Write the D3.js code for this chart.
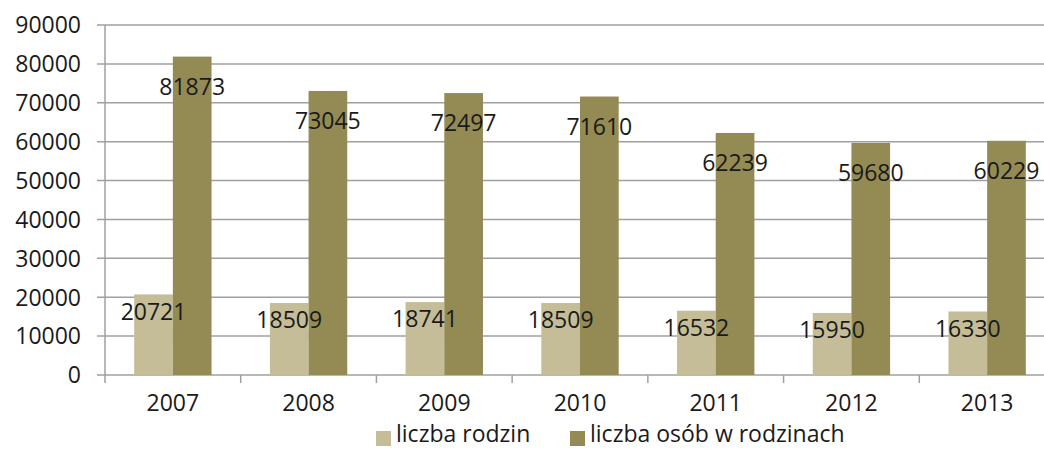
<!DOCTYPE html>
<html>
<head>
<meta charset="utf-8">
<script src="https://cdn.jsdelivr.net/npm/d3@7"></script>
<style>
  body { margin: 0; background: #fff; }
  svg { display: block; font-family: "Open Sans", sans-serif; }
  .grid line { stroke: #a0a0a0; stroke-width: 1.5; }
  .lbl { font-size: 23px; fill: #1a1a1a; }
</style>
</head>
<body>
<div id="chart"></div>
<script>
var years = ["2007", "2008", "2009", "2010", "2011", "2012", "2013"];
var families = [20721, 18509, 18741, 18509, 16532, 15950, 16330];
var persons = [81873, 73045, 72497, 71610, 62239, 59680, 60229];
var seriesNames = ["liczba rodzin", "liczba osób w rodzinach"];
var yTicks = [0, 10000, 20000, 30000, 40000, 50000, 60000, 70000, 80000, 90000];

var width = 1044, height = 450;
var colors = ["#c4bd97", "#948a54"];
var labelOffset = [17, 30];

var svg = d3.select("#chart").append("svg")
  .attr("width", width)
  .attr("height", height);

var x = d3.scaleBand().domain(years).range([105, 1055])
  .paddingInner(0.43).paddingOuter(0.215);
var xs = d3.scaleBand().domain([0, 1]).range([0, x.bandwidth()]);
var y = d3.scaleLinear().domain([0, 90000]).range([375, 25]);

// gridlines
svg.append("g")
  .attr("class", "grid")
  .selectAll("line")
  .data(yTicks)
  .enter().append("line")
  .attr("x1", 97)
  .attr("x2", 1055)
  .attr("y1", function(d) { return y(d); })
  .attr("y2", function(d) { return y(d); });

// y tick labels
svg.append("g")
  .selectAll("text")
  .data(yTicks)
  .enter().append("text")
  .attr("class", "lbl")
  .attr("x", 81)
  .attr("y", function(d) { return y(d); })
  .attr("dy", "0.36em")
  .attr("text-anchor", "end")
  .text(function(d) { return d; });

// bars
var rows = years.map(function(yr, i) { return {year: yr, vals: [families[i], persons[i]]}; });

var groups = svg.append("g")
  .selectAll("g")
  .data(rows)
  .enter().append("g")
  .attr("transform", function(d) { return "translate(" + x(d.year) + ",0)"; });

groups.selectAll("rect")
  .data(function(d) { return d.vals; })
  .enter().append("rect")
  .attr("x", function(d, i) { return xs(i); })
  .attr("width", xs.bandwidth())
  .attr("y", function(d) { return y(d); })
  .attr("height", function(d) { return y(0) - y(d); })
  .attr("fill", function(d, i) { return colors[i]; });

groups.selectAll("text")
  .data(function(d) { return d.vals; })
  .enter().append("text")
  .attr("class", "lbl")
  .attr("x", function(d, i) { return xs(i) + xs.bandwidth() / 2; })
  .attr("y", function(d, i) { return y(d) + labelOffset[i]; })
  .attr("dy", "0.36em")
  .attr("text-anchor", "middle")
  .text(function(d) { return d; });

// axes lines
svg.append("line")
  .attr("x1", 105).attr("x2", 105)
  .attr("y1", 25).attr("y2", 375)
  .attr("stroke", "#a0a0a0").attr("stroke-width", 1.5);

var boundaries = years.map(function(d) { return x(d) - x.step() * x.paddingInner() / 2; });
boundaries.push(boundaries[boundaries.length - 1] + x.step());
svg.append("g")
  .selectAll("line")
  .data(boundaries)
  .enter().append("line")
  .attr("x1", function(d) { return d; })
  .attr("x2", function(d) { return d; })
  .attr("y1", 375).attr("y2", 383)
  .attr("stroke", "#a0a0a0").attr("stroke-width", 1.5);

svg.append("g")
  .selectAll("text")
  .data(years)
  .enter().append("text")
  .attr("class", "lbl")
  .attr("x", function(d) { return x(d) + x.bandwidth() / 2; })
  .attr("y", 411)
  .attr("text-anchor", "middle")
  .text(function(d) { return d; });

// legend
var legendX = [376, 570];
var legend = svg.append("g")
  .selectAll("g")
  .data(seriesNames)
  .enter().append("g")
  .attr("transform", function(d, i) { return "translate(" + legendX[i] + ",0)"; });

legend.append("rect")
  .attr("x", 0).attr("y", 431)
  .attr("width", 15).attr("height", 15)
  .attr("fill", function(d, i) { return colors[i]; });

legend.append("text")
  .attr("class", "lbl")
  .attr("x", 20)
  .attr("y", 442)
  .text(function(d) { return d; });
</script>
</body>
</html>
